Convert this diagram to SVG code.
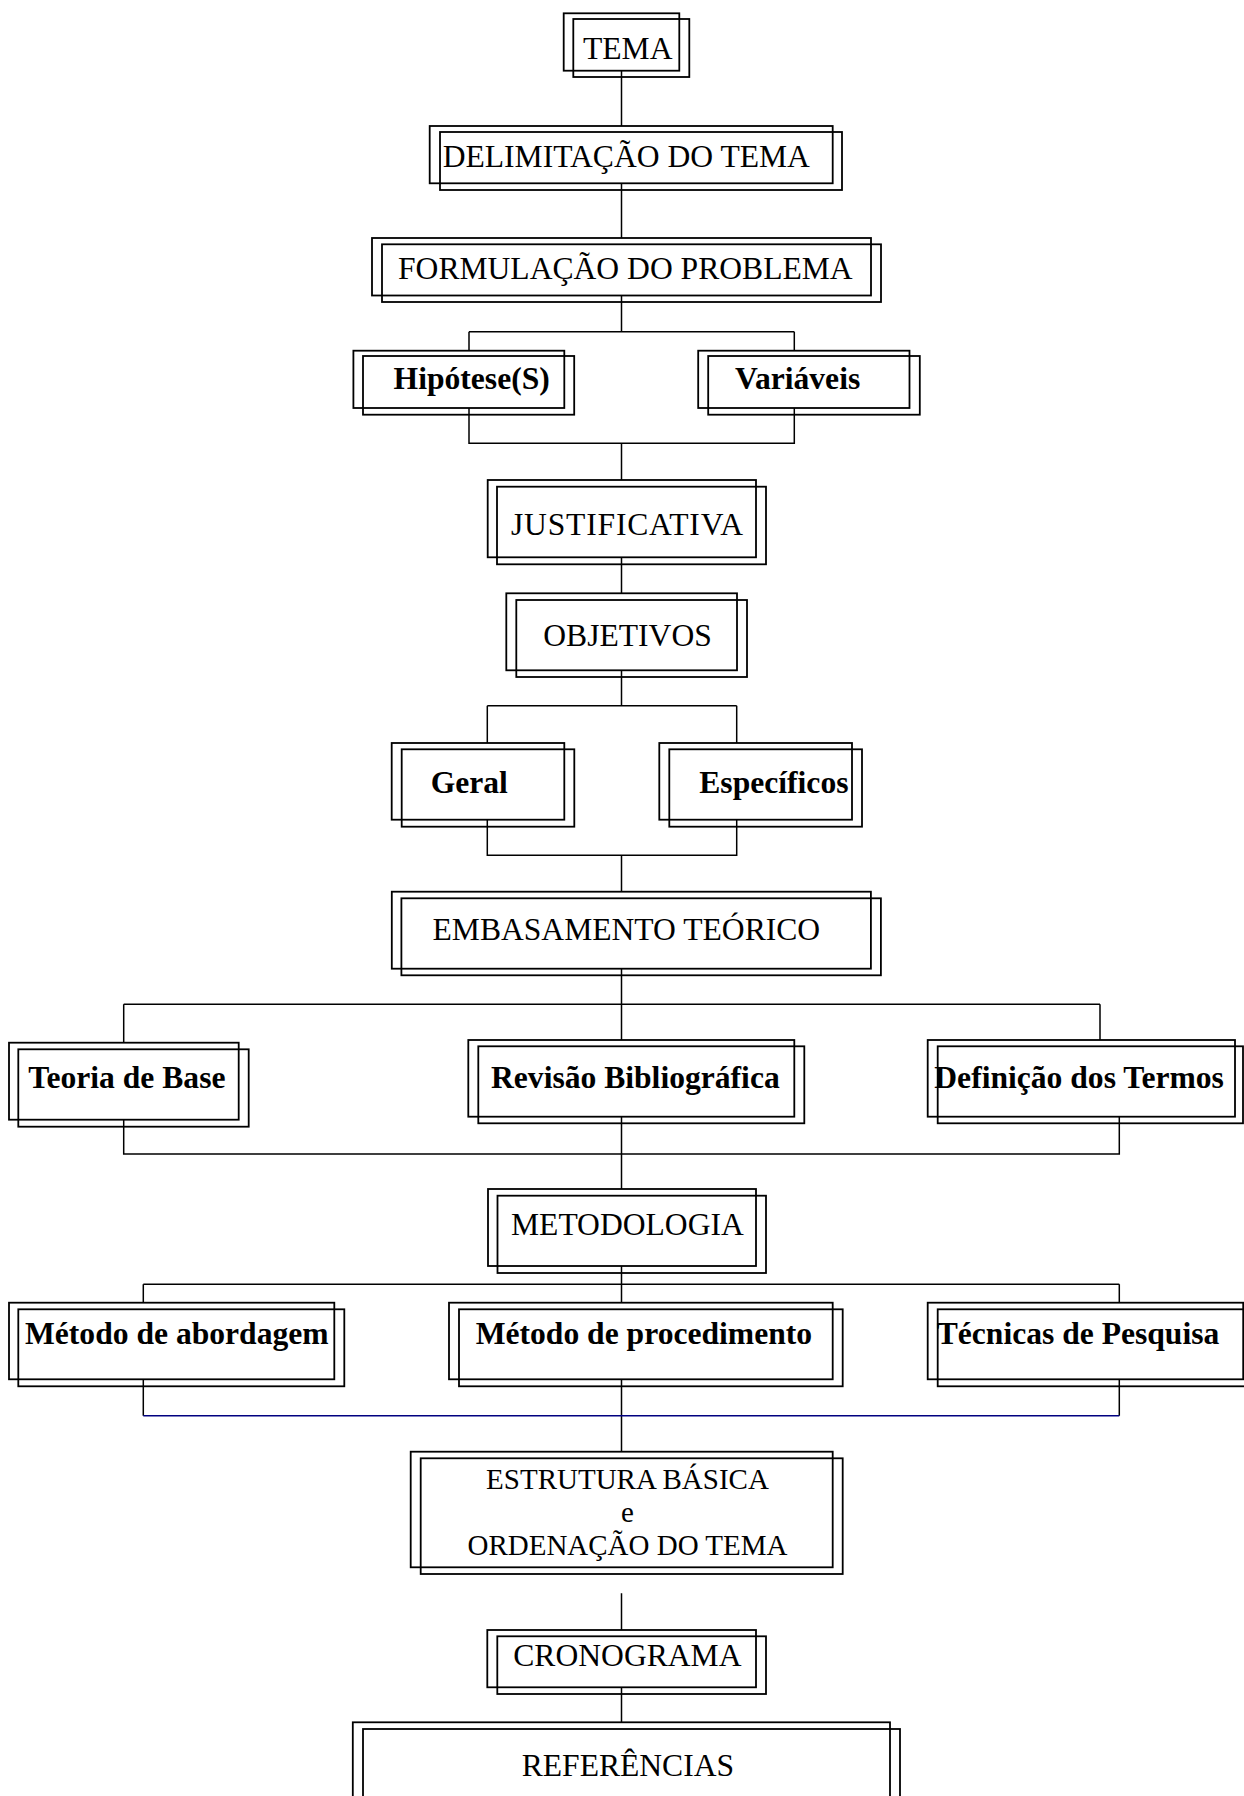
<svg xmlns="http://www.w3.org/2000/svg" width="1244" height="1796" viewBox="0 0 1244 1796">
<style>
.o{fill:none;stroke:#000;stroke-width:1.8}
.i{fill:none;stroke:#000;stroke-width:1.8}
.t{font-family:"Liberation Serif","Times New Roman",serif;font-size:31.6px;fill:#000}
.b{font-weight:bold}
.c{fill:none;stroke:#000;stroke-width:1.5}
.n{fill:none;stroke:#000080;stroke-width:1.5}
</style>
<rect width="1244" height="1796" fill="#fff"/>
<g id="connectors">
<path class="c" d="M621.5 70.7V126M621.5 183.3V238M621.5 295.5V331.7M469 331.7H794.3M469 331.7V350.7M794.3 331.7V350.7M469 408V443.3H794.3V408M621.5 443.3V480M621.5 557.3V593.3M621.5 670.3V705.7M487.3 705.7H736.7M487.3 705.7V743M736.7 705.7V743M487.3 819.7V855.3H736.7V819.7M621.5 855.3V891.7M621.5 968.7V1040M123.7 1004.3H1100M123.7 1004.3V1042.7M1100 1004.3V1040M123.7 1119.7V1154H1119.3V1116.7M621.5 1116.7V1189M621.5 1266V1302.7M143.3 1284.3H1119.3M143.3 1284.3V1302.7M1119.3 1284.3V1302.7M143.3 1379.3V1415.7M1119.3 1379.3V1415.7M621.5 1379.3V1451.7M621.5 1593.3V1630M621.5 1687.3V1722.3"/>
<path class="n" d="M143.3 1415.7H1119.3"/>
</g>
<g id="tema"><rect class="o" x="563.7" y="13.3" width="115.6" height="57.4"/><rect class="i" x="573.3" y="19" width="116" height="58"/><text class="t" x="583" y="58.7">TEMA</text></g>
<g id="delimitacao"><rect class="o" x="429.7" y="126" width="403" height="57.3"/><rect class="i" x="440" y="132" width="402" height="58"/><text class="t" x="442.7" y="166.7">DELIMITAÇÃO DO TEMA</text></g>
<g id="formulacao"><rect class="o" x="372" y="238" width="499" height="57.5"/><rect class="i" x="382" y="244.3" width="499" height="57.7"/><text class="t" x="398" y="278.5">FORMULAÇÃO DO PROBLEMA</text></g>
<g id="hipotese"><rect class="o" x="353.4" y="350.7" width="210.9" height="57.3"/><rect class="i" x="363" y="356" width="211.2" height="58.7"/><text class="t b" x="393.6" y="389.3">Hipótese(S)</text></g>
<g id="variaveis"><rect class="o" x="698.2" y="350.7" width="211.3" height="57.3"/><rect class="i" x="708.2" y="356" width="211.6" height="58.7"/><text class="t b" x="735" y="389.3">Variáveis</text></g>
<g id="justificativa"><rect class="o" x="487.7" y="480" width="268.3" height="77.3"/><rect class="i" x="497" y="486.7" width="269" height="77.6"/><text class="t" x="511" y="535" textLength="232" lengthAdjust="spacing">JUSTIFICATIVA</text></g>
<g id="objetivos"><rect class="o" x="506.3" y="593.3" width="230.7" height="77"/><rect class="i" x="516.3" y="600" width="230.7" height="77"/><text class="t" x="543.3" y="645.7">OBJETIVOS</text></g>
<g id="geral"><rect class="o" x="391.7" y="743" width="172.6" height="76.7"/><rect class="i" x="401.7" y="749.3" width="172.6" height="77.4"/><text class="t b" x="430.7" y="793.3">Geral</text></g>
<g id="especificos"><rect class="o" x="659.3" y="743" width="192.7" height="76.7"/><rect class="i" x="669.3" y="749.3" width="192.7" height="77.4"/><text class="t b" x="699.3" y="793.3">Específicos</text></g>
<g id="embasamento"><rect class="o" x="391.8" y="891.7" width="479.1" height="77"/><rect class="i" x="401.4" y="898.3" width="479.5" height="77"/><text class="t" x="432.5" y="940">EMBASAMENTO TEÓRICO</text></g>
<g id="teoria"><rect class="o" x="9" y="1042.7" width="229.7" height="77"/><rect class="i" x="18.3" y="1049.3" width="230.4" height="77.4"/><text class="t b" x="28.3" y="1088.3">Teoria de Base</text></g>
<g id="revisao"><rect class="o" x="468.3" y="1040" width="326" height="76.7"/><rect class="i" x="478.3" y="1046.3" width="326" height="77"/><text class="t b" x="491" y="1088.3">Revisão Bibliográfica</text></g>
<g id="definicao"><rect class="o" x="927.7" y="1040" width="307.3" height="76.7"/><rect class="i" x="937.7" y="1046.3" width="305.3" height="77"/><text class="t b" x="934.3" y="1088.3">Definição dos Termos</text></g>
<g id="metodologia"><rect class="o" x="488" y="1189" width="268" height="77"/><rect class="i" x="497.5" y="1195.7" width="268.5" height="77.3"/><text class="t" x="511" y="1235">METODOLOGIA</text></g>
<g id="abordagem"><rect class="o" x="9" y="1302.7" width="325.3" height="76.6"/><rect class="i" x="18.3" y="1309.3" width="326" height="77"/><text class="t b" x="25" y="1344.3">Método de abordagem</text></g>
<g id="procedimento"><rect class="o" x="449" y="1302.7" width="383.7" height="76.6"/><rect class="i" x="459" y="1309.3" width="383.7" height="77"/><text class="t b" x="475.7" y="1344.3">Método de procedimento</text></g>
<g id="tecnicas"><rect class="o" x="927.7" y="1302.7" width="315.5" height="76.6"/><rect class="i" x="937.7" y="1309.3" width="320" height="77"/><text class="t b" x="936.7" y="1344.3">Técnicas de Pesquisa</text></g>
<g id="estrutura"><rect class="o" x="410.7" y="1451.7" width="422" height="115.6"/><rect class="i" x="420.7" y="1458.3" width="422" height="115.7"/><text class="t" style="font-size:29px" text-anchor="middle" x="627.5"><tspan x="627.5" y="1489">ESTRUTURA BÁSICA</tspan><tspan x="627.5" y="1522.3">e</tspan><tspan x="627.5" y="1555.3">ORDENAÇÃO DO TEMA</tspan></text></g>
<g id="cronograma"><rect class="o" x="487.3" y="1630" width="268.7" height="57.3"/><rect class="i" x="497.3" y="1636.3" width="268.7" height="57.7"/><text class="t" x="513.3" y="1665.7">CRONOGRAMA</text></g>
<g id="referencias"><rect class="o" x="352.8" y="1722.3" width="537.2" height="100"/><rect class="i" x="363" y="1729" width="537" height="100"/><text class="t" x="521.7" y="1775.5">REFERÊNCIAS</text></g>
</svg>
